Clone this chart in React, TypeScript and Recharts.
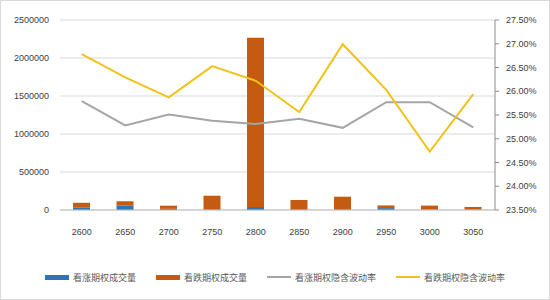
import React from 'react';
import { ComposedChart, Bar, Line, XAxis, YAxis, CartesianGrid, Legend } from 'recharts';

// strikes on the x axis
const strikes = ['2600', '2650', '2700', '2750', '2800', '2850', '2900', '2950', '3000', '3050'];

// volumes (left axis)
const callVolume = [35000, 57000, 15000, 10000, 40000, 10000, 10000, 25000, 8000, 5000];
const putVolume = [60000, 58000, 42000, 178000, 2225000, 122000, 165000, 35000, 50000, 35000];

// implied volatility in % (right axis)
const callIV = [25.79, 25.28, 25.51, 25.38, 25.31, 25.42, 25.23, 25.77, 25.77, 25.24];
const putIV = [26.78, 26.29, 25.87, 26.53, 26.22, 25.56, 26.99, 26.03, 24.73, 25.94];

const leftTicks = [0, 500000, 1000000, 1500000, 2000000, 2500000];
const rightTicks = [23.5, 24, 24.5, 25, 25.5, 26, 26.5, 27, 27.5];

const names = ['看涨期权成交量', '看跌期权成交量', '看涨期权隐含波动率', '看跌期权隐含波动率'];

const BLUE = '#2e75b6';
const ORANGE = '#c55a11';
const GRAY = '#a5a5a5';
const GOLD = '#f0c21a';

const data = strikes.map((s, i) => ({
    strike: s,
    callVol: callVolume[i],
    putVol: putVolume[i],
    callIV: callIV[i],
    putIV: putIV[i],
}));

const axisFont = { fontFamily: 'Liberation Sans, sans-serif', fontSize: 9, fill: '#404040' };

const legendItems = [
    { name: names[0], color: BLUE, kind: 'bar' },
    { name: names[1], color: ORANGE, kind: 'bar' },
    { name: names[2], color: GRAY, kind: 'line' },
    { name: names[3], color: GOLD, kind: 'line' },
];

const renderLegend = () => (
    <div
        style={{
            display: 'flex',
            justifyContent: 'center',
            alignItems: 'center',
            height: 16,
            gap: 20,
            fontFamily: '"Noto Sans CJK SC", sans-serif',
            fontSize: 9,
            color: '#595959',
        }}
    >
        {legendItems.map((it) => (
            <div key={it.name} style={{ display: 'flex', alignItems: 'center' }}>
                <span
                    style={{
                        display: 'inline-block',
                        width: 24,
                        height: it.kind === 'bar' ? 5 : 2,
                        background: it.color,
                        marginRight: 4,
                    }}
                />
                <span>{it.name}</span>
            </div>
        ))}
    </div>
);

export default function App() {
    return (
        <div
            style={{
                position: 'absolute',
                left: 0,
                top: 0,
                width: 550,
                height: 300,
                background: '#fff',
                boxShadow: 'inset 0 0 0 1px #d9d9d9',
            }}
        >
            <ComposedChart width={550} height={300} data={data} margin={{ top: 20, right: 0, left: 0, bottom: 15 }}>
                <CartesianGrid yAxisId="left" vertical={false} stroke="#d9d9d9" />
                <XAxis
                    dataKey="strike"
                    height={59}
                    tick={axisFont}
                    tickLine={false}
                    tickMargin={13}
                    axisLine={{ stroke: '#bfbfbf' }}
                />
                <YAxis
                    yAxisId="left"
                    width={60}
                    domain={[0, 2500000]}
                    ticks={leftTicks}
                    tick={axisFont}
                    tickLine={false}
                    axisLine={false}
                    tickMargin={5}
                    interval={0}
                />
                <YAxis
                    yAxisId="right"
                    orientation="right"
                    width={55}
                    domain={[23.5, 27.5]}
                    ticks={rightTicks}
                    tick={axisFont}
                    tickSize={4}
                    tickMargin={7}
                    tickLine={{ stroke: '#8c8c8c' }}
                    axisLine={{ stroke: '#8c8c8c' }}
                    interval={0}
                    tickFormatter={(v: number) => v.toFixed(2) + '%'}
                />
                <Legend verticalAlign="bottom" content={renderLegend} />
                <Bar yAxisId="left" dataKey="callVol" name={names[0]} stackId="v" fill={BLUE} barSize={17} isAnimationActive={false} />
                <Bar yAxisId="left" dataKey="putVol" name={names[1]} stackId="v" fill={ORANGE} barSize={17} isAnimationActive={false} />
                <Line yAxisId="right" dataKey="callIV" name={names[2]} stroke={GRAY} strokeWidth={2} dot={false} isAnimationActive={false} />
                <Line yAxisId="right" dataKey="putIV" name={names[3]} stroke={GOLD} strokeWidth={2} dot={false} isAnimationActive={false} />
            </ComposedChart>
        </div>
    );
}
